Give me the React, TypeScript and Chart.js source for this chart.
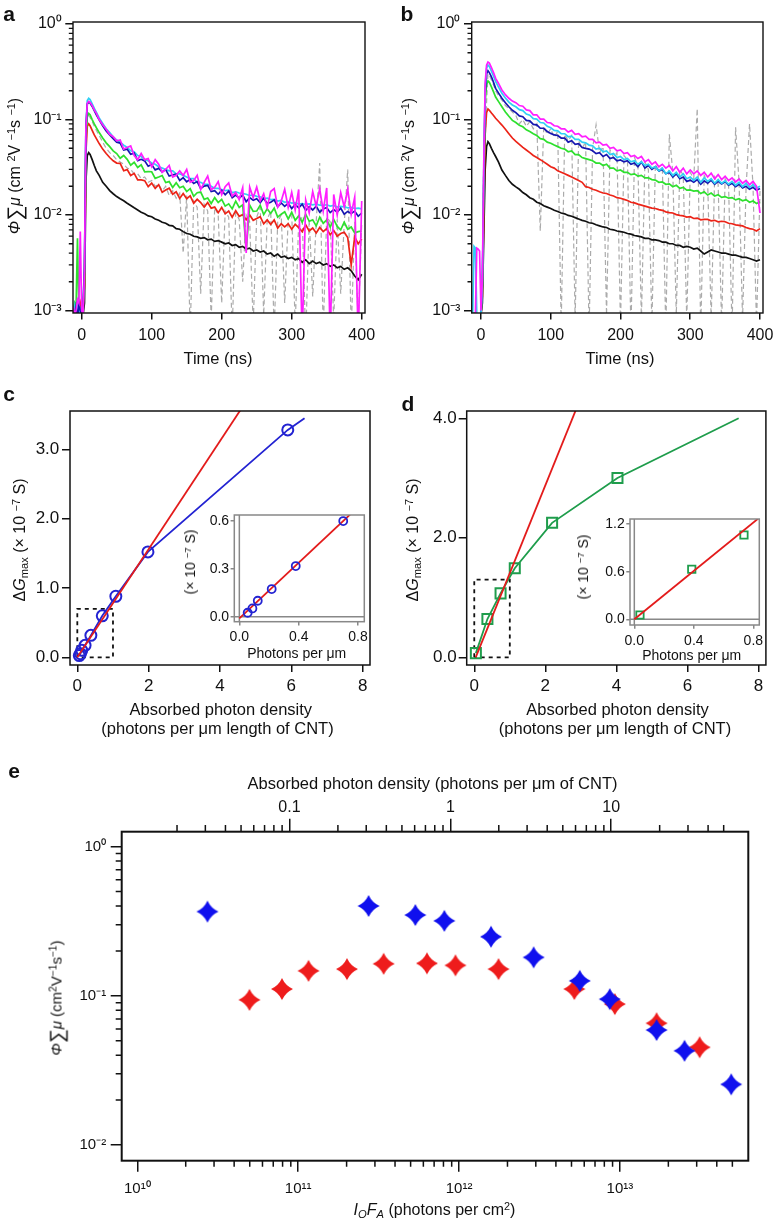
import React, { useEffect, useRef } from 'react';
import { Chart, registerables } from 'chart.js';

Chart.register(...registerables);

const FONT = '"Liberation Sans", Arial, Helvetica, sans-serif';
const INK = '#111111';

// ---------------- panels a / b : transients ----------------
const timeNs = [
  -12, -10, -8, -6, -4, -2, 0, 2, 4, 6, 8, 10, 12, 15, 18, 21, 25, 30, 35, 40, 45,
  50, 55, 60, 65, 70, 75, 80, 85, 90, 95,
  100, 105, 110, 115, 120, 125, 130, 135, 140, 145,
  150, 155, 160, 165, 170, 175, 180, 185, 190, 195,
  200, 205, 210, 215, 220, 225, 230, 235, 240, 245,
  250, 255, 260, 265, 270, 275, 280, 285, 290, 295,
  300, 305, 310, 315, 320, 325, 330, 335, 340, 345,
  350, 355, 360, 365, 370, 375, 380, 385, 390, 395,
  400,
];

const aCyan = [
  0.0009, 0.0011, 0.0008, 0.0012, 0.001, 0.0009, 0.0011, 0.0012, 0.003, 0.085, 0.158, 0.167, 0.162, 0.146, 0.131, 0.119, 0.104, 0.091, 0.08, 0.073, 0.066,
  0.061, 0.058, 0.054, 0.051, 0.047, 0.046, 0.042, 0.041, 0.038, 0.037,
  0.035, 0.034, 0.032, 0.031, 0.03, 0.029, 0.029, 0.027, 0.027, 0.026,
  0.025, 0.024, 0.024, 0.022, 0.022, 0.021, 0.021, 0.02, 0.019, 0.019,
  0.0185, 0.018, 0.0182, 0.0172, 0.0175, 0.017, 0.0168, 0.0165, 0.016, 0.0162,
  0.0157, 0.0155, 0.0148, 0.015, 0.0145, 0.0146, 0.014, 0.0142, 0.0136, 0.0138,
  0.0133, 0.0135, 0.013, 0.0132, 0.0129, 0.0131, 0.0128, 0.013, 0.0127, 0.0126,
  0.0128, 0.0124, 0.0126, 0.0121, 0.0123, 0.0122, 0.0119, 0.012, 0.0117, 0.0118,
  0.0116,
];
const aBlue = [
  0.001, 0.0009, 0.0011, 0.0008, 0.0012, 0.001, 0.0009, 0.0011, 0.0028, 0.078, 0.145, 0.152, 0.149, 0.137, 0.124, 0.112, 0.099, 0.086, 0.076, 0.069, 0.063,
  0.058, 0.0567, 0.048, 0.0489, 0.0432, 0.0445, 0.0371, 0.0383, 0.0369, 0.0324,
  0.0338, 0.0297, 0.0308, 0.0283, 0.0299, 0.0256, 0.0263, 0.0268, 0.023, 0.0246,
  0.0223, 0.0236, 0.0214, 0.0224, 0.019, 0.0201, 0.0204, 0.0176, 0.018, 0.0165,
  0.0181, 0.0163, 0.0178, 0.0152, 0.0162, 0.015, 0.0162, 0.0138, 0.0152, 0.0143,
  0.0148, 0.0135, 0.015, 0.0132, 0.0136, 0.0144, 0.0122, 0.0134, 0.0123, 0.0133,
  0.0117, 0.0129, 0.0119, 0.013, 0.0112, 0.0122, 0.0113, 0.0124, 0.0107, 0.0116,
  0.012, 0.0106, 0.0114, 0.0107, 0.0118, 0.0102, 0.0109, 0.0104, 0.011, 0.0097,
  0.0105,
];
const aMagenta = [
  0.0011, 0.0009, 0.001, 0.0013, 0.0012, 0.0067, 0.001, 0.0009, 0.0025, 0.08, 0.148, 0.155, 0.151, 0.14, 0.126, 0.116, 0.1, 0.088, 0.079, 0.07, 0.066,
  0.06, 0.061, 0.049, 0.051, 0.053, 0.042, 0.038, 0.044, 0.038, 0.039,
  0.032, 0.038, 0.034, 0.028, 0.03, 0.033, 0.025, 0.026, 0.029, 0.026,
  0.03, 0.022, 0.023, 0.026, 0.0185, 0.022, 0.0256, 0.0184, 0.0195, 0.0224,
  0.0163, 0.0198, 0.0217, 0.0158, 0.0172, 0.0145, 0.0193, 0.004, 0.0196, 0.0152,
  0.0196, 0.014, 0.0167, 0.012, 0.0176, 0.0189, 0.0121, 0.014, 0.0186, 0.012,
  0.0173, 0.0113, 0.0185, 0.0005, 0.0144, 0.0105, 0.0176, 0.0124, 0.0188, 0.011,
  0.0192, 0.0005, 0.0164, 0.01, 0.0172, 0.0122, 0.0187, 0.0102, 0.0154, 0.0005,
  0.014,
];
const aGreen = [
  0.001, 0.0012, 0.0011, 0.0057, 0.0009, 0.001, 0.0011, 0.001, 0.0022, 0.06, 0.108, 0.116, 0.112, 0.1, 0.09, 0.082, 0.073, 0.064, 0.057, 0.052, 0.047,
  0.044, 0.0393, 0.042, 0.0383, 0.0332, 0.0357, 0.0315, 0.0335, 0.0283, 0.0285,
  0.0284, 0.0242, 0.025, 0.0259, 0.0219, 0.0224, 0.0194, 0.0218, 0.0193, 0.02,
  0.0176, 0.0189, 0.0157, 0.0171, 0.0174, 0.0146, 0.0151, 0.0132, 0.0152, 0.0135,
  0.0146, 0.0124, 0.0131, 0.0116, 0.014, 0.012, 0.0128, 0.0042, 0.0127, 0.0109,
  0.011, 0.0127, 0.0101, 0.0116, 0.0104, 0.0118, 0.0095, 0.0102, 0.0108, 0.0091,
  0.0107, 0.0088, 0.0098, 0.0084, 0.0102, 0.0086, 0.0089, 0.0077, 0.0095, 0.0082,
  0.0089, 0.0075, 0.009, 0.0076, 0.007, 0.0084, 0.0071, 0.0075, 0.0065, 0.0067,
  0.0068,
];
const aRed = [
  0.0009, 0.001, 0.0011, 0.0009, 0.001, 0.0012, 0.001, 0.0011, 0.0018, 0.045, 0.085, 0.09, 0.086, 0.077, 0.069, 0.063, 0.056, 0.049, 0.044, 0.04, 0.037,
  0.035, 0.0347, 0.0291, 0.0299, 0.0259, 0.0273, 0.0233, 0.0233, 0.0229, 0.0198,
  0.0216, 0.019, 0.0208, 0.0173, 0.0183, 0.0191, 0.0165, 0.0175, 0.0149, 0.0168,
  0.0148, 0.0159, 0.0133, 0.0146, 0.0135, 0.0121, 0.0135, 0.0118, 0.0121, 0.0106,
  0.012, 0.0103, 0.011, 0.0095, 0.0111, 0.0097, 0.0101, 0.0089, 0.01, 0.0088,
  0.0092, 0.0096, 0.0081, 0.0089, 0.008, 0.0089, 0.0073, 0.0081, 0.0075, 0.0081,
  0.0071, 0.008, 0.0074, 0.0067, 0.0079, 0.0068, 0.0073, 0.0065, 0.0074, 0.0067,
  0.0072, 0.0062, 0.0069, 0.006, 0.0064, 0.0066, 0.0058, 0.003, 0.0059, 0.005,
  0.0056,
];
const aBlack = [
  0.001, 0.0009, 0.0011, 0.001, 0.0009, 0.0011, 0.001, 0.0009, 0.0012, 0.022, 0.042, 0.045, 0.043, 0.038, 0.033, 0.029, 0.026, 0.022, 0.02, 0.018, 0.0167,
  0.0156, 0.0148, 0.0141, 0.0133, 0.0126, 0.0119, 0.0113, 0.0107, 0.0103, 0.0098,
  0.0096, 0.0091, 0.0088, 0.0084, 0.0082, 0.0078, 0.0077, 0.0072, 0.0071, 0.0067,
  0.0064, 0.0063, 0.006, 0.0059, 0.0057, 0.0058, 0.0055, 0.0056, 0.0053, 0.0054,
  0.0052, 0.005, 0.0051, 0.0048, 0.0049, 0.0046, 0.0047, 0.0044, 0.0045, 0.0042,
  0.0043, 0.0041, 0.0042, 0.0039, 0.004, 0.0037, 0.0039, 0.0036, 0.0037, 0.0035,
  0.0036, 0.0034, 0.0035, 0.0032, 0.0034, 0.0031, 0.0033, 0.0031, 0.0032, 0.003,
  0.0031, 0.0029, 0.003, 0.0028, 0.0029, 0.0027, 0.0028, 0.0026, 0.0023, 0.0021,
  0.0024,
];
const aGray = [
  0.0009, 0.001, 0.0011, 0.001, 0.0012, 0.001, 0.0009, 0.001, 0.002, 0.05, 0.1, 0.11, 0.105, 0.095, 0.085, 0.077, 0.068, 0.058, 0.05, 0.045, 0.042,
  0.038, 0.036, 0.034, 0.031, 0.03, 0.027, 0.027, 0.024, 0.025, 0.022,
  0.023, 0.02, 0.021, 0.018, 0.02, 0.016, 0.018, 0.015, 0.017, 0.004,
  0.016, 0.0006, 0.014, 0.012, 0.0015, 0.013, 0.011, 0.0008, 0.012, 0.01,
  0.0012, 0.011, 0.0095, 0.0006, 0.0105, 0.009, 0.002, 0.01, 0.0085, 0.0007,
  0.0095, 0.012, 0.0009, 0.009, 0.011, 0.0006, 0.0085, 0.01, 0.0012, 0.009,
  0.0105, 0.0007, 0.0085, 0.0095, 0.0005, 0.009, 0.0014, 0.0085, 0.035, 0.0006,
  0.0095, 0.0085, 0.0008, 0.009, 0.0015, 0.008, 0.03, 0.0006, 0.0085, 0.0007,
  0.008,
];

const bBlack = [
  0.0008, 0.0009, 0.0008, 0.0009, 0.0008, 0.0009, 0.0009, 0.0012, 0.006, 0.03, 0.052, 0.0586, 0.056, 0.05, 0.045, 0.041, 0.036, 0.0296, 0.026, 0.023, 0.021,
  0.0197, 0.0186, 0.0172, 0.0163, 0.0152, 0.0146, 0.0136, 0.0132, 0.0125, 0.0121,
  0.0117, 0.0112, 0.0109, 0.0105, 0.0103, 0.0099, 0.0097, 0.0094, 0.0091, 0.0088,
  0.0086, 0.0083, 0.0082, 0.0079, 0.0077, 0.0075, 0.0074, 0.0071, 0.007, 0.0068,
  0.0067, 0.0066, 0.0064, 0.0063, 0.0061, 0.006, 0.0059, 0.0057, 0.0057, 0.0055,
  0.0055, 0.0054, 0.0052, 0.0052, 0.005, 0.005, 0.0048, 0.0048, 0.0046, 0.0047,
  0.0046, 0.0044, 0.0045, 0.0042, 0.0039, 0.0041, 0.0043, 0.0042, 0.0041, 0.004,
  0.004, 0.0039, 0.0038, 0.0038, 0.0037, 0.0036, 0.0036, 0.0035, 0.0034, 0.0033,
  0.0034,
];
const bRed = [
  0.0008, 0.0009, 0.0008, 0.0009, 0.0008, 0.0009, 0.0009, 0.0014, 0.01, 0.07, 0.118, 0.129, 0.125, 0.117, 0.11, 0.103, 0.096, 0.0875, 0.079, 0.071, 0.064,
  0.059, 0.055, 0.051, 0.048, 0.045, 0.042, 0.04, 0.038, 0.036, 0.034,
  0.032, 0.031, 0.029, 0.028, 0.027, 0.026, 0.025, 0.024, 0.023, 0.022,
  0.0198, 0.0194, 0.0186, 0.0182, 0.0175, 0.017, 0.0168, 0.0162, 0.0158, 0.0152,
  0.015, 0.0146, 0.0142, 0.0136, 0.0134, 0.013, 0.0127, 0.0124, 0.0121, 0.0118,
  0.0117, 0.0114, 0.0112, 0.0108, 0.0106, 0.0105, 0.0101, 0.0099, 0.0098, 0.0095,
  0.0096, 0.0092, 0.0093, 0.0089, 0.009, 0.009, 0.0087, 0.0088, 0.0085, 0.0086,
  0.0085, 0.0082, 0.0081, 0.0079, 0.0078, 0.0077, 0.0074, 0.0072, 0.0071, 0.0068,
  0.0072,
];
const bGreen = [
  0.0008, 0.0009, 0.0008, 0.0009, 0.0008, 0.0009, 0.0009, 0.0016, 0.02, 0.15, 0.235, 0.253, 0.245, 0.22, 0.195, 0.172, 0.155, 0.136, 0.12, 0.108, 0.098,
  0.093, 0.087, 0.084, 0.078, 0.075, 0.071, 0.068, 0.063, 0.062, 0.058,
  0.0565, 0.054, 0.052, 0.05, 0.049, 0.046, 0.047, 0.043, 0.043, 0.04,
  0.039, 0.038, 0.037, 0.035, 0.035, 0.033, 0.034, 0.031, 0.031, 0.029,
  0.0296, 0.028, 0.028, 0.0265, 0.027, 0.0255, 0.026, 0.0245, 0.0245, 0.0235,
  0.0232, 0.022, 0.0222, 0.021, 0.0212, 0.0198, 0.0205, 0.019, 0.0195, 0.0182,
  0.0183, 0.0178, 0.018, 0.0168, 0.0175, 0.0162, 0.017, 0.0158, 0.0163, 0.0153,
  0.0156, 0.015, 0.0152, 0.0144, 0.0148, 0.0141, 0.0145, 0.0136, 0.014, 0.0132,
  0.0138,
];
const bBlue = [
  0.0008, 0.0009, 0.0008, 0.0009, 0.0008, 0.0009, 0.0009, 0.0018, 0.025, 0.19, 0.3, 0.324, 0.31, 0.28, 0.245, 0.212, 0.19, 0.167, 0.15, 0.136, 0.125,
  0.118, 0.109, 0.107, 0.098, 0.097, 0.089, 0.088, 0.081, 0.081, 0.075,
  0.0716, 0.069, 0.068, 0.064, 0.064, 0.058, 0.06, 0.055, 0.056, 0.051,
  0.0499, 0.049, 0.047, 0.044, 0.045, 0.041, 0.043, 0.039, 0.04, 0.037,
  0.0377, 0.036, 0.037, 0.034, 0.035, 0.032, 0.036, 0.031, 0.033, 0.03,
  0.032, 0.029, 0.03, 0.027, 0.028, 0.025, 0.027, 0.024, 0.025, 0.0225,
  0.0232, 0.022, 0.0235, 0.021, 0.0228, 0.0215, 0.0232, 0.021, 0.0226, 0.0212,
  0.0223, 0.0205, 0.0215, 0.0198, 0.021, 0.0192, 0.02, 0.0186, 0.0195, 0.0182,
  0.019,
];
const bCyan = [
  0.0008, 0.0047, 0.0045, 0.0009, 0.0008, 0.0009, 0.0009, 0.002, 0.03, 0.22, 0.345, 0.372, 0.36, 0.32, 0.285, 0.25, 0.22, 0.188, 0.168, 0.152, 0.142,
  0.136, 0.127, 0.124, 0.114, 0.111, 0.102, 0.101, 0.093, 0.092, 0.085,
  0.082, 0.077, 0.076, 0.071, 0.071, 0.066, 0.067, 0.062, 0.062, 0.058,
  0.057, 0.054, 0.053, 0.049, 0.05, 0.046, 0.047, 0.043, 0.044, 0.04,
  0.041, 0.038, 0.039, 0.036, 0.037, 0.034, 0.036, 0.033, 0.034, 0.031,
  0.032, 0.029, 0.031, 0.027, 0.029, 0.026, 0.028, 0.025, 0.027, 0.024,
  0.025, 0.023, 0.025, 0.022, 0.0245, 0.0225, 0.024, 0.0215, 0.0235, 0.0215,
  0.0228, 0.021, 0.0225, 0.0205, 0.022, 0.0198, 0.0215, 0.0195, 0.0208, 0.0192,
  0.02,
];
const bMagenta = [
  0.0008, 0.0009, 0.0009, 0.0045, 0.0044, 0.0042, 0.001, 0.0022, 0.035, 0.24, 0.37, 0.4, 0.39, 0.35, 0.31, 0.27, 0.24, 0.204, 0.182, 0.167, 0.156,
  0.15, 0.14, 0.138, 0.126, 0.124, 0.112, 0.112, 0.101, 0.101, 0.093,
  0.092, 0.086, 0.085, 0.08, 0.08, 0.074, 0.077, 0.07, 0.071, 0.066,
  0.067, 0.062, 0.062, 0.057, 0.058, 0.054, 0.055, 0.05, 0.051, 0.047,
  0.048, 0.044, 0.045, 0.041, 0.042, 0.039, 0.041, 0.036, 0.038, 0.034,
  0.036, 0.032, 0.034, 0.031, 0.033, 0.029, 0.032, 0.028, 0.031, 0.027,
  0.0296, 0.027, 0.029, 0.026, 0.028, 0.025, 0.0275, 0.024, 0.0265, 0.0235,
  0.0255, 0.023, 0.0245, 0.0222, 0.0238, 0.0215, 0.023, 0.0208, 0.0225, 0.02,
  0.0105,
];
const bGray = [
  0.0008, 0.0009, 0.0008, 0.0009, 0.0008, 0.0009, 0.0009, 0.0015, 0.06, 0.06, 0.15, 0.3, 0.29, 0.26, 0.23, 0.2, 0.18, 0.16, 0.14, 0.13, 0.12,
  0.11, 0.09, 0.1, 0.085, 0.095, 0.08, 0.09, 0.0068, 0.085, 0.07,
  0.08, 0.065, 0.075, 0.0007, 0.07, 0.06, 0.068, 0.0008, 0.06, 0.05,
  0.058, 0.0006, 0.05, 0.088, 0.045, 0.052, 0.0009, 0.048, 0.04, 0.045,
  0.0007, 0.042, 0.038, 0.0006, 0.04, 0.033, 0.0008, 0.036, 0.03, 0.0007,
  0.034, 0.028, 0.032, 0.0006, 0.07, 0.028, 0.0009, 0.03, 0.026, 0.0008,
  0.028, 0.024, 0.13, 0.0006, 0.026, 0.022, 0.0008, 0.025, 0.021, 0.0007,
  0.024, 0.02, 0.0006, 0.083, 0.022, 0.0008, 0.019, 0.09, 0.02, 0.0007,
  0.018,
];

const timeTicks = [0, 100, 200, 300, 400];
const timeTickLabels = ['0', '100', '200', '300', '400'];
const decadeTicksAB = [0.001, 0.01, 0.1, 1];
const decadeLabelsAB = ['10\u207B\u00B3', '10\u207B\u00B2', '10\u207B\u00B9', '10\u2070'];

// ---------------- panel c ----------------
const cPhotons = [0.056, 0.088, 0.124, 0.218, 0.38, 0.7, 1.08, 1.98, 5.9];
const cDeltaG = [0.025, 0.052, 0.1, 0.173, 0.317, 0.598, 0.88, 1.52, 3.28];
const cBlueLineX = [0.056, 0.088, 0.124, 0.218, 0.38, 0.7, 1.08, 1.98, 5.9, 6.37];
const cBlueLineY = [0.025, 0.052, 0.1, 0.173, 0.317, 0.598, 0.88, 1.52, 3.28, 3.45];
const cFitX = [0, 4.7];
const cFitY = [0, 3.666];
const cBoxX = [0, 0, 1, 1, 0];
const cBoxY = [0, 0.7, 0.7, 0, 0];
const cInsetX = [0.056, 0.088, 0.124, 0.218, 0.38, 0.7];
const cInsetY = [0.025, 0.052, 0.1, 0.173, 0.317, 0.598];
const cInsetFitX = [0, 0.76];
const cInsetFitY = [-0.01, 0.651];

// ---------------- panel d ----------------
const dPhotons = [0.045, 0.37, 0.74, 1.14, 2.19, 4.03];
const dDeltaG = [0.07, 0.64, 1.07, 1.49, 2.25, 3.0];
const dLineX = [0.045, 0.37, 0.74, 1.14, 2.19, 4.03, 7.44];
const dLineY = [0.07, 0.64, 1.07, 1.49, 2.25, 3.0, 4.0];
const dFitX = [0.04, 2.9];
const dFitY = [0, 4.2];
const dBoxX = [0, 0, 1, 1, 0];
const dBoxY = [0, 1.3, 1.3, 0, 0];
const dInsetX = [0.038, 0.386, 0.737];
const dInsetY = [0.054, 0.63, 1.061];
const dInsetFitX = [0, 0.86];
const dInsetFitY = [0, 1.31];

const densTicks = [0, 2, 4, 6, 8];
const densLabels = ['0', '2', '4', '6', '8'];
const insetXTicks = [0, 0.4, 0.8];
const insetXLabels = ['0.0', '0.4', '0.8'];

// ---------------- panel e ----------------
const eBlueFlux = [2.73e10, 2.74e11, 5.35e11, 8.1e11, 1.58e12, 2.91e12, 5.63e12, 8.65e12, 1.69e13, 2.52e13, 4.92e13];
const eBlueYield = [0.367, 0.4, 0.348, 0.318, 0.249, 0.181, 0.126, 0.095, 0.059, 0.0428, 0.0255];
const eRedFlux = [4.98e10, 7.93e10, 1.16e11, 2.01e11, 3.4e11, 6.32e11, 9.5e11, 1.76e12, 5.21e12, 9.3e12, 1.69e13, 3.13e13];
const eRedYield = [0.094, 0.111, 0.147, 0.151, 0.164, 0.165, 0.16, 0.151, 0.111, 0.088, 0.0655, 0.0452];
const eXTicks = [1e10, 1e11, 1e12, 1e13];
const eXLabels = ['10\u00B9\u2070', '10\u00B9\u00B9', '10\u00B9\u00B2', '10\u00B9\u00B3'];
const eYTicks = [0.01, 0.1, 1];
const eYLabels = ['10\u207B\u00B2', '10\u207B\u00B9', '10\u2070'];
const eTopTicks = [0.1, 1, 10];
const eTopLabels = ['0.1', '1', '10'];
const FLUX_PER_PHOTON_DENSITY = 8.83e11; // photons cm^-2 per (photon per um)

// ---------------- helpers ----------------
function minorsOf(decades: number[], lo: number, hi: number) {
  const out: number[] = [];
  decades.forEach((d) => {
    for (let m = 2; m <= 9; m++) {
      const v = d * m;
      if (v >= lo && v <= hi) out.push(v);
    }
  });
  return out;
}

type Rect = { x: number; y: number; w: number; h: number };
type Area = { l: number; t: number; r: number; b: number };
type AxisSpec = {
  type: 'linear' | 'logarithmic';
  position: 'left' | 'bottom' | 'top';
  min: number;
  max: number;
  ticks: number[];
  labels: string[];
  font: number;
  tl: number;
  pad: number;
  color?: string;
};
type Minor = { axis: string; side: 'left' | 'bottom' | 'top'; values: number[]; len: number };
type DecoCfg = { frame: string; frameW: number; fill?: boolean; zero?: string; minors?: Minor[]; tickW?: number };

function axis(s: AxisSpec, fit: number) {
  const horiz = s.position !== 'left';
  const col = s.color || INK;
  return {
    type: s.type,
    position: s.position,
    min: s.min,
    max: s.max,
    afterBuildTicks: (sc: any) => {
      sc.ticks = s.ticks.map((v) => ({ value: v }));
    },
    afterFit: (sc: any) => {
      if (horiz) sc.height = fit;
      else sc.width = fit;
      sc.paddingLeft = 0;
      sc.paddingRight = 0;
      sc.paddingTop = 0;
      sc.paddingBottom = 0;
    },
    grid: {
      display: true,
      drawOnChartArea: false,
      drawTicks: true,
      tickLength: s.tl,
      tickWidth: 1.5,
      lineWidth: 1.5,
      tickColor: col,
      color: col,
    },
    border: { display: false },
    ticks: {
      autoSkip: false,
      maxRotation: 0,
      minRotation: 0,
      padding: s.pad,
      color: INK,
      font: { family: FONT, size: s.font },
      callback: (v: number) => {
        const i = s.ticks.indexOf(v);
        return i >= 0 ? s.labels[i] : '';
      },
    },
  };
}

function deco(cfg: DecoCfg) {
  return {
    id: 'deco',
    beforeDraw(chart: any) {
      if (!cfg.fill) return;
      const { ctx, chartArea: a } = chart;
      ctx.save();
      ctx.fillStyle = '#ffffff';
      ctx.fillRect(a.left, a.top, a.right - a.left, a.bottom - a.top);
      ctx.restore();
    },
    beforeDatasetsDraw(chart: any) {
      if (!cfg.zero) return;
      const { ctx, chartArea: a, scales } = chart;
      const x0 = scales.x.getPixelForValue(0);
      const y0 = scales.y.getPixelForValue(0);
      ctx.save();
      ctx.strokeStyle = cfg.zero;
      ctx.lineWidth = 1.5;
      ctx.beginPath();
      ctx.moveTo(x0, a.top);
      ctx.lineTo(x0, a.bottom);
      ctx.moveTo(a.left, y0);
      ctx.lineTo(a.right, y0);
      ctx.stroke();
      ctx.restore();
    },
    afterDraw(chart: any) {
      const { ctx, chartArea: a, scales } = chart;
      ctx.save();
      ctx.strokeStyle = cfg.frame;
      ctx.lineWidth = cfg.frameW;
      ctx.strokeRect(a.left, a.top, a.right - a.left, a.bottom - a.top);
      (cfg.minors || []).forEach((m) => {
        const sc = scales[m.axis];
        ctx.lineWidth = cfg.tickW || 1.3;
        ctx.beginPath();
        m.values.forEach((v) => {
          const p = sc.getPixelForValue(v);
          if (m.side === 'left') {
            if (p < a.top - 0.5 || p > a.bottom + 0.5) return;
            ctx.moveTo(a.left, p);
            ctx.lineTo(a.left - m.len, p);
          } else if (m.side === 'bottom') {
            if (p < a.left - 0.5 || p > a.right + 0.5) return;
            ctx.moveTo(p, a.bottom);
            ctx.lineTo(p, a.bottom + m.len);
          } else {
            if (p < a.left - 0.5 || p > a.right + 0.5) return;
            ctx.moveTo(p, a.top);
            ctx.lineTo(p, a.top - m.len);
          }
        });
        ctx.stroke();
      });
      ctx.restore();
    },
  };
}

function makeChart(
  canvas: HTMLCanvasElement,
  box: Rect,
  area: Area,
  datasets: any[],
  xAx: AxisSpec,
  yAx: AxisSpec,
  dec: DecoCfg,
  topAx?: AxisSpec
) {
  const scales: any = {
    x: axis(xAx, box.y + box.h - area.b),
    y: axis(yAx, area.l - box.x),
  };
  if (topAx) scales.x2 = axis(topAx, area.t - box.y);
  return new Chart(canvas, {
    type: 'scatter',
    data: { datasets },
    options: {
      responsive: false,
      animation: false,
      devicePixelRatio: 1,
      events: [],
      layout: {
        padding: { left: 0, top: topAx ? 0 : area.t - box.y, right: box.x + box.w - area.r, bottom: 0 },
      },
      plugins: { legend: { display: false }, tooltip: { enabled: false }, title: { display: false } },
      scales,
    } as any,
    plugins: [deco(dec) as any],
  });
}

const xy = (xs: number[], ys: number[]) => xs.map((x, i) => ({ x, y: ys[i] }));

function trace(ys: number[], color: string, width: number, dash?: number[]) {
  const ds: any = {
    data: xy(timeNs, ys),
    borderColor: color,
    borderWidth: width,
    showLine: true,
    pointRadius: 0,
    pointHoverRadius: 0,
    fill: false,
    tension: 0,
  };
  if (dash) ds.borderDash = dash;
  return ds;
}

function lineSet(xs: number[], ys: number[], color: string, width: number, dash?: number[]) {
  const ds: any = {
    data: xy(xs, ys),
    borderColor: color,
    borderWidth: width,
    showLine: true,
    pointRadius: 0,
    pointHoverRadius: 0,
    fill: false,
    tension: 0,
  };
  if (dash) ds.borderDash = dash;
  return ds;
}

function markerSet(xs: number[], ys: number[], color: string, style: any, radius: number, bw: number) {
  return {
    data: xy(xs, ys),
    showLine: false,
    pointStyle: style,
    pointRadius: radius,
    pointHoverRadius: radius,
    pointBorderWidth: bw,
    pointBorderColor: color,
    pointBackgroundColor: 'rgba(0,0,0,0)',
    borderColor: color,
    backgroundColor: 'rgba(0,0,0,0)',
  };
}

function starImage(color: string) {
  const size = 24;
  const cv = document.createElement('canvas');
  cv.width = size;
  cv.height = size;
  const g = cv.getContext('2d')!;
  const c = size / 2;
  const R = 11;
  const k = 3.4;
  g.fillStyle = color;
  g.beginPath();
  g.moveTo(c, c - R);
  g.quadraticCurveTo(c + k, c - k, c + R, c);
  g.quadraticCurveTo(c + k, c + k, c, c + R);
  g.quadraticCurveTo(c - k, c + k, c - R, c);
  g.quadraticCurveTo(c - k, c - k, c, c - R);
  g.closePath();
  g.fill();
  return cv;
}

// trace colours
const T_BLACK = '#111111';
const T_RED = '#ec2418';
const T_GREEN = '#2ee02e';
const T_BLUE = '#1616b0';
const T_CYAN = '#2fd0f5';
const T_MAGENTA = '#ff1eff';
const T_GRAY = '#ababab';

// layout boxes
const BOX_A: Rect = { x: 0, y: 0, w: 390, h: 350 };
const AREA_A: Area = { l: 73, t: 22, r: 365, b: 313 };
const BOX_B: Rect = { x: 390, y: 0, w: 385, h: 350 };
const AREA_B: Area = { l: 471.7, t: 22, r: 763, b: 313 };
const BOX_C: Rect = { x: 0, y: 380, w: 390, h: 320 };
const AREA_C: Area = { l: 70, t: 411, r: 370, b: 665 };
const BOX_CI: Rect = { x: 180, y: 500, w: 200, h: 170 };
const AREA_CI: Area = { l: 234.3, t: 515, r: 364.3, b: 621.7 };
const BOX_D: Rect = { x: 390, y: 380, w: 385, h: 320 };
const AREA_D: Area = { l: 466.7, t: 411, r: 767.3, b: 665 };
const BOX_DI: Rect = { x: 590, y: 500, w: 185, h: 170 };
const AREA_DI: Area = { l: 630, t: 519, r: 759.3, b: 625 };
const BOX_E: Rect = { x: 0, y: 790, w: 775, h: 430 };
const AREA_E: Area = { l: 121.7, t: 831.7, r: 748.3, b: 1160.7 };

const abs = (b: Rect): React.CSSProperties => ({ position: 'absolute', left: b.x, top: b.y });

function Txt(props: { x: number; y: number; size: number; rot?: boolean; bold?: boolean; children: React.ReactNode }) {
  return (
    <div
      style={{
        position: 'absolute',
        left: props.x,
        top: props.y,
        transform: `translate(-50%, -50%)${props.rot ? ' rotate(-90deg)' : ''}`,
        fontSize: props.size,
        fontWeight: props.bold ? 'bold' : 'normal',
        whiteSpace: 'nowrap',
        lineHeight: 1,
        color: INK,
        fontFamily: FONT,
      }}
    >
      {props.children}
    </div>
  );
}

const Sup = (p: { children: React.ReactNode }) => (
  <sup style={{ fontSize: '0.68em', verticalAlign: '0.45em', lineHeight: 0 }}>{p.children}</sup>
);
const Sub = (p: { children: React.ReactNode }) => (
  <sub style={{ fontSize: '0.7em', verticalAlign: '-0.25em', lineHeight: 0 }}>{p.children}</sub>
);

const YieldTitle = (p: { spaced: boolean }) => (
  <span>
    <i>Φ</i>
    <span style={{ fontSize: '1.3em', lineHeight: 0, verticalAlign: '-0.08em' }}>∑</span>
    <i>μ</i> (cm{p.spaced ? ' ' : ''}
    <Sup>2</Sup>V{p.spaced ? ' ' : ''}
    <Sup>−1</Sup>s{p.spaced ? ' ' : ''}
    <Sup>−1</Sup>)
  </span>
);

const DGTitle = () => (
  <span>
    Δ<i>G</i>
    <Sub>max</Sub> (× 10 <Sup>−7</Sup> S)
  </span>
);

export default function App() {
  const rA = useRef<HTMLCanvasElement>(null);
  const rB = useRef<HTMLCanvasElement>(null);
  const rC = useRef<HTMLCanvasElement>(null);
  const rCI = useRef<HTMLCanvasElement>(null);
  const rD = useRef<HTMLCanvasElement>(null);
  const rDI = useRef<HTMLCanvasElement>(null);
  const rE = useRef<HTMLCanvasElement>(null);

  useEffect(() => {
    const charts: Chart[] = [];
    const abMinor = minorsOf([0.001, 0.01, 0.1], 0.001, 1);

    const timeAxis = (min: number, max: number): AxisSpec => ({
      type: 'linear', position: 'bottom', min, max, ticks: timeTicks, labels: timeTickLabels, font: 16, tl: 6.5, pad: 6,
    });
    const yieldAxis: AxisSpec = {
      type: 'logarithmic', position: 'left', min: 0.000942, max: 1.05, ticks: decadeTicksAB, labels: decadeLabelsAB, font: 16, tl: 7.7, pad: 3.6,
    };
    const abDeco: DecoCfg = { frame: INK, frameW: 1.4, minors: [{ axis: 'y', side: 'left', values: abMinor, len: 4.2 }] };

    charts.push(
      makeChart(rA.current!, BOX_A, AREA_A, [
        trace(aMagenta, T_MAGENTA, 1.7),
        trace(aBlue, T_BLUE, 1.7),
        trace(aCyan, T_CYAN, 1.7),
        trace(aGreen, T_GREEN, 1.7),
        trace(aRed, T_RED, 1.7),
        trace(aBlack, T_BLACK, 1.7),
        trace(aGray, T_GRAY, 1.2, [5, 3]),
      ], timeAxis(-12.4, 404.7), yieldAxis, abDeco)
    );
    charts.push(
      makeChart(rB.current!, BOX_B, AREA_B, [
        trace(bMagenta, T_MAGENTA, 1.7),
        trace(bCyan, T_CYAN, 1.7),
        trace(bBlue, T_BLUE, 1.7),
        trace(bGreen, T_GREEN, 1.7),
        trace(bRed, T_RED, 1.7),
        trace(bBlack, T_BLACK, 1.7),
        trace(bGray, T_GRAY, 1.2, [5, 3]),
      ], timeAxis(-13.3, 404.3), yieldAxis, abDeco)
    );

    const densAxis: AxisSpec = {
      type: 'linear', position: 'bottom', min: -0.205, max: 8.205, ticks: densTicks, labels: densLabels, font: 17, tl: 7, pad: 3.8,
    };
    const C_BLUE = '#2323d2';
    const C_RED = '#e31b1b';
    const C_GREEN = '#1f9d4c';

    charts.push(
      makeChart(rC.current!, BOX_C, AREA_C, [
        lineSet(cFitX, cFitY, C_RED, 1.8),
        markerSet(cPhotons, cDeltaG, C_BLUE, 'circle', 5.5, 2),
        lineSet(cBlueLineX, cBlueLineY, C_BLUE, 1.8),
        lineSet(cBoxX, cBoxY, INK, 1.8, [4, 4]),
      ], densAxis, {
        type: 'linear', position: 'left', min: -0.111, max: 3.553, ticks: [0, 1, 2, 3], labels: ['0.0', '1.0', '2.0', '3.0'], font: 17, tl: 8, pad: 2.7,
      }, { frame: INK, frameW: 1.5 })
    );
    charts.push(
      makeChart(rCI.current!, BOX_CI, AREA_CI, [
        markerSet(cInsetX, cInsetY, C_BLUE, 'circle', 4, 1.8),
        lineSet(cInsetFitX, cInsetFitY, C_RED, 1.8),
      ], {
        type: 'linear', position: 'bottom', min: -0.034, max: 0.842, ticks: insetXTicks, labels: insetXLabels, font: 14, tl: 3.7, pad: 2.9, color: '#888888',
      }, {
        type: 'linear', position: 'left', min: -0.031, max: 0.636, ticks: [0, 0.3, 0.6], labels: ['0.0', '0.3', '0.6'], font: 14, tl: 3.7, pad: 1.5, color: '#888888',
      }, { frame: '#888888', frameW: 1.5, fill: true, zero: '#888888' })
    );

    charts.push(
      makeChart(rD.current!, BOX_D, AREA_D, [
        lineSet(dFitX, dFitY, C_RED, 1.8),
        markerSet(dPhotons, dDeltaG, C_GREEN, 'rect', 7.1, 2),
        lineSet(dLineX, dLineY, C_GREEN, 1.8),
        lineSet(dBoxX, dBoxY, INK, 1.8, [4, 4]),
      ], { ...densAxis, min: -0.213, max: 8.207 }, {
        type: 'linear', position: 'left', min: -0.129, max: 4.122, ticks: [0, 2, 4], labels: ['0.0', '2.0', '4.0'], font: 17, tl: 8, pad: 2,
      }, { frame: INK, frameW: 1.5 })
    );
    charts.push(
      makeChart(rDI.current!, BOX_DI, AREA_DI, [
        lineSet(dInsetFitX, dInsetFitY, C_RED, 1.8),
        markerSet(dInsetX, dInsetY, C_GREEN, 'rect', 5.2, 1.8),
      ], {
        type: 'linear', position: 'bottom', min: -0.029, max: 0.84, ticks: insetXTicks, labels: insetXLabels, font: 14, tl: 3.7, pad: 3.9, color: '#888888',
      }, {
        type: 'linear', position: 'left', min: -0.072, max: 1.263, ticks: [0, 0.6, 1.2], labels: ['0.0', '0.6', '1.2'], font: 14, tl: 3.7, pad: 1.5, color: '#888888',
      }, { frame: '#888888', frameW: 1.5, fill: true, zero: '#888888' })
    );

    const eXMin = 8.0e9;
    const eXMax = 6.28e13;
    charts.push(
      makeChart(rE.current!, BOX_E, AREA_E, [
        markerSet(eBlueFlux, eBlueYield, '#1010ee', starImage('#1010ee'), 10, 0),
        markerSet(eRedFlux, eRedYield, '#ee1c1c', starImage('#ee1c1c'), 10, 0),
      ], {
        type: 'logarithmic', position: 'bottom', min: eXMin, max: eXMax, ticks: eXTicks, labels: eXLabels, font: 15, tl: 11, pad: 8,
      }, {
        type: 'logarithmic', position: 'left', min: 0.00785, max: 1.259, ticks: eYTicks, labels: eYLabels, font: 15, tl: 11, pad: 4.5,
      }, {
        frame: INK, frameW: 2, tickW: 1.5,
        minors: [
          { axis: 'y', side: 'left', values: minorsOf([0.01, 0.1], 0.01, 1), len: 6 },
          { axis: 'x', side: 'bottom', values: minorsOf([1e10, 1e11, 1e12, 1e13], 1e10, 5.5e13), len: 6 },
          { axis: 'x2', side: 'top', values: minorsOf([0.01, 0.1, 1, 10], 0.015, 55), len: 6.7 },
        ],
      }, {
        type: 'logarithmic', position: 'top', min: eXMin / FLUX_PER_PHOTON_DENSITY, max: eXMax / FLUX_PER_PHOTON_DENSITY,
        ticks: eTopTicks, labels: eTopLabels, font: 16, tl: 13, pad: 1.8,
      })
    );

    return () => charts.forEach((c) => c.destroy());
  }, []);

  const cv = (r: React.RefObject<HTMLCanvasElement>, b: Rect) => (
    <canvas ref={r} width={b.w} height={b.h} style={{ ...abs(b), width: b.w, height: b.h }} />
  );

  return (
    <div
      style={{
        position: 'absolute', left: 0, top: 0, width: 775, height: 1220, overflow: 'hidden',
        background: '#ffffff', fontFamily: FONT, color: INK,
      }}
    >
      {cv(rA, BOX_A)}
      {cv(rB, BOX_B)}
      {cv(rC, BOX_C)}
      {cv(rD, BOX_D)}
      {cv(rE, BOX_E)}
      {cv(rCI, BOX_CI)}
      {cv(rDI, BOX_DI)}

      <Txt x={9} y={12.7} size={21} bold>a</Txt>
      <Txt x={407} y={12.7} size={21} bold>b</Txt>
      <Txt x={9} y={392.7} size={21} bold>c</Txt>
      <Txt x={408} y={402.7} size={21} bold>d</Txt>
      <Txt x={14} y={769.7} size={21} bold>e</Txt>

      <Txt x={15} y={166} size={16} rot><YieldTitle spaced /></Txt>
      <Txt x={409} y={166} size={16} rot><YieldTitle spaced /></Txt>
      <Txt x={218} y={358} size={16.5}>Time (ns)</Txt>
      <Txt x={620} y={358} size={16.5}>Time (ns)</Txt>

      <Txt x={20} y={540} size={16} rot><DGTitle /></Txt>
      <Txt x={413} y={540} size={16} rot><DGTitle /></Txt>
      <Txt x={220.8} y={708.5} size={16.5}>Absorbed photon density</Txt>
      <Txt x={217.5} y={728} size={16.5}>(photons per μm length of CNT)</Txt>
      <Txt x={617.5} y={708.5} size={16.5}>Absorbed photon density</Txt>
      <Txt x={615} y={728} size={16.5}>(photons per μm length of CNT)</Txt>

      <Txt x={296.7} y={653.3} size={14}>Photons per μm</Txt>
      <Txt x={190} y={562} size={14} rot>(× 10 <Sup>−7</Sup> S)</Txt>
      <Txt x={691.7} y={655} size={14}>Photons per μm</Txt>
      <Txt x={583} y={567} size={14} rot>(× 10 <Sup>−7</Sup> S)</Txt>

      <Txt x={432.5} y={782.7} size={16.5}>Absorbed photon density (photons per μm of CNT)</Txt>
      <Txt x={434.5} y={1210} size={16}>
        <i>I</i><Sub><i>O</i></Sub><i>F</i><Sub><i>A</i></Sub> (photons per cm<Sup>2</Sup>)
      </Txt>
      <Txt x={56} y={998} size={15} rot><YieldTitle spaced={false} /></Txt>
    </div>
  );
}
